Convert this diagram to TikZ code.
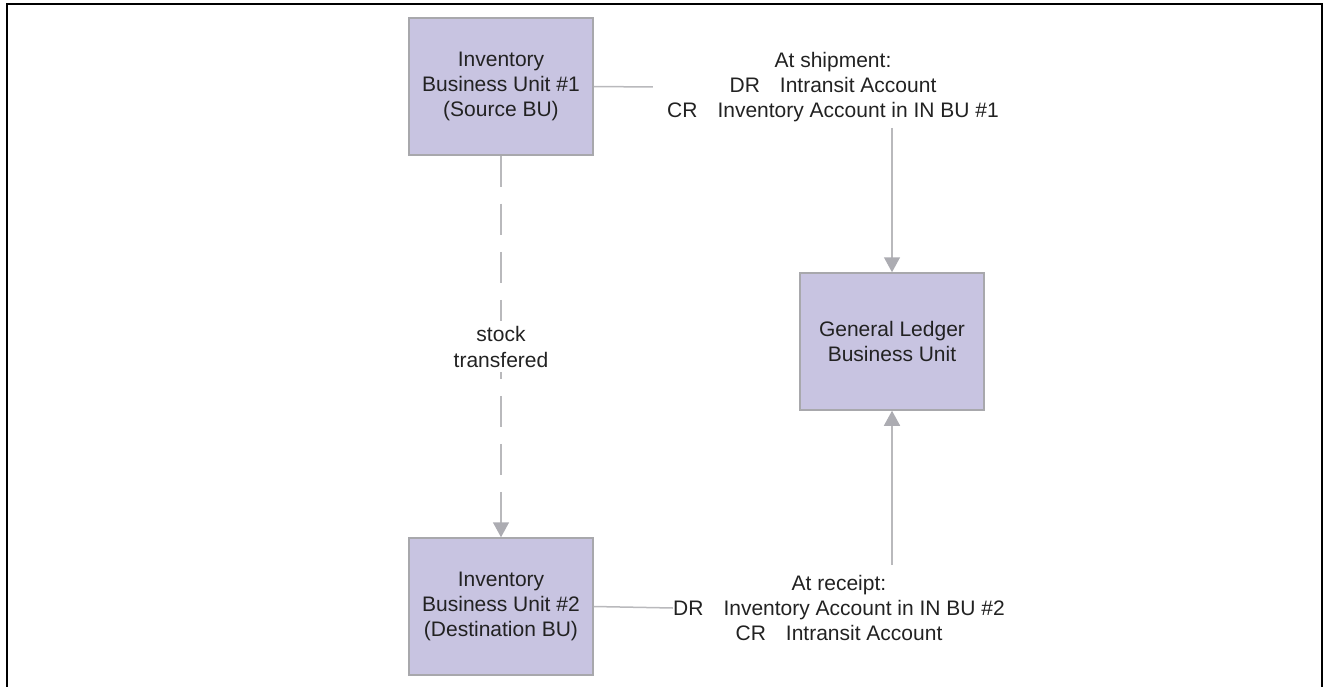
\documentclass[tikz,border=0pt]{standalone}
\usepackage{fontspec}
\setmainfont{Liberation Sans}
\usetikzlibrary{arrows.meta}

\definecolor{unitfill}{RGB}{200,196,225}
\definecolor{unitline}{RGB}{168,168,172}
\definecolor{wire}{RGB}{185,185,188}
\definecolor{tipgray}{RGB}{172,172,178}
\definecolor{ink}{RGB}{34,34,34}

\tikzset{
  unit/.style={draw=unitline, fill=unitfill, line width=1.5pt,
    minimum width=184pt, minimum height=137pt, inner sep=0pt,
    align=center, text=ink},
  note/.style={align=center, inner sep=0pt, text=ink},
  wireline/.style={draw=wire, line width=1.5pt},
  flow/.style={wireline, -{Triangle[length=15pt,width=16pt,fill=tipgray,color=tipgray]}},
  longdash/.style={dash pattern=on 31pt off 17pt},
}

\begin{document}
\begin{tikzpicture}[x=1pt, y=-1pt,
  every node/.style={font=\fontsize{21}{25}\selectfont}]
  \useasboundingbox (0,0) rectangle (1325,687);

  % outer frame (open at the bottom)
  \draw[line width=2.5pt, line cap=butt] (7,687) -- (7,4) -- (1322,4) -- (1322,687);

  % business units
  \node[unit] (src) at (501,86.5) {Inventory\\Business Unit \#1\\(Source BU)};
  \node[unit] (dst) at (501,606.5) {Inventory\\Business Unit \#2\\(Destination BU)};
  \node[unit] (gl)  at (892,341.5) {General Ledger\\Business Unit};

  % accounting entries
  \node[note] (ship) at (833,87)
    {At shipment:\\DR\hspace{20pt}Intransit Account\\CR\hspace{20pt}Inventory Account in IN BU \#1};
  \node[note] (rcpt) at (839,608)
    {At receipt:\\DR\hspace{20pt}Inventory Account in IN BU \#2\\CR\hspace{20pt}Intransit Account};

  \coordinate (shipfoot) at (892,128);
  \coordinate (rcpthead) at (892,565);

  % connectors
  \draw[wireline] (src.east) -- ([xshift=-14pt]ship.west);
  \draw[wireline] (dst.east) -- (rcpt.west);
  \draw[flow] (shipfoot) -- (gl.north);
  \draw[flow] (rcpthead) -- (gl.south);
  \draw[flow, longdash] (src.south) -- (dst.north)
    node[midway, fill=white, align=center, inner xsep=2pt, inner ysep=5pt, text=ink,
         font=\fontsize{21}{26}\selectfont] (xfer) {stock\\transfered};
\end{tikzpicture}
\end{document}
